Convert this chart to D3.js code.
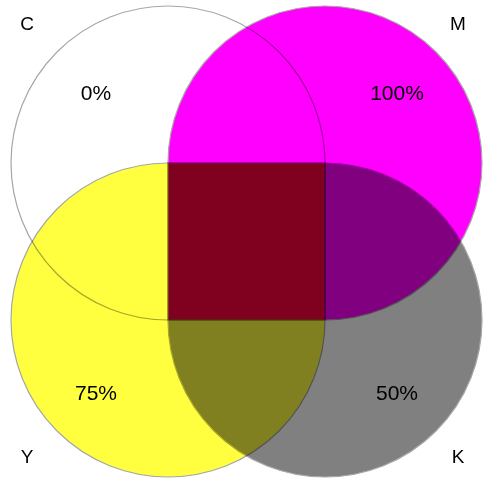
<!DOCTYPE html>
<html>
<head>
<meta charset="utf-8">
<script src="https://cdn.jsdelivr.net/npm/d3@7"></script>
<style>
  html, body { margin: 0; padding: 0; background: #fff; }
  svg { display: block; font-family: "Liberation Sans", Arial, sans-serif; }
  .ink { mix-blend-mode: multiply; }
</style>
</head>
<body>
<div id="chart"></div>
<script>
// CMYK ink coverage, one rounded square per ink
const inks = ['C', 'M', 'Y', 'K'];
const coverage = [0, 100, 75, 50];
const fullColors = ['#00ffff', '#ff00ff', '#ffff00', '#000000'];
const cols = [0, 1, 0, 1];
const rows = [0, 0, 1, 1];

const width = 486, height = 483;

const svg = d3.select('#chart').append('svg')
  .attr('width', width)
  .attr('height', height);

// grid of centres
const x = d3.scaleLinear().domain([0, 1]).range([168, 325]);
const y = d3.scaleLinear().domain([0, 1]).range([163, 320]);
const r = x(1) - x(0);

// color = white mixed with full ink by coverage
const color = (i) => d3.interpolateRgb('#ffffff', fullColors[i])(coverage[i] / 100);

// rounded square, the corner that points to the middle is left sharp
function shape(i) {
  const cx = x(cols[i]), cy = y(rows[i]);
  const sx = cols[i] === 0 ? 1 : -1; // direction of sharp corner
  const sy = rows[i] === 0 ? 1 : -1;
  const rad = (dx, dy) => (dx === sx && dy === sy ? 0 : r);
  const p = d3.path();
  p.moveTo(cx, cy - r);
  p.arcTo(cx + r, cy - r, cx + r, cy, rad(1, -1));
  p.arcTo(cx + r, cy + r, cx, cy + r, rad(1, 1));
  p.arcTo(cx - r, cy + r, cx - r, cy, rad(-1, 1));
  p.arcTo(cx - r, cy - r, cx, cy - r, rad(-1, -1));
  p.closePath();
  return p.toString();
}

const idx = d3.range(inks.length);

svg.append('g').selectAll('path')
  .data(idx)
  .enter()
  .append('path')
  .attr('class', 'ink')
  .attr('d', (i) => shape(i))
  .attr('fill', (i) => color(i))
  .attr('stroke', '#a6a6a6')
  .attr('stroke-width', 1.2);

// percent labels
svg.append('g').selectAll('text')
  .data(idx)
  .enter()
  .append('text')
  .attr('x', (i) => x(cols[i]) + (cols[i] === 0 ? -72 : 72))
  .attr('y', (i) => y(rows[i]) + (rows[i] === 0 ? -70 : 73))
  .attr('dy', '0.35em')
  .attr('text-anchor', 'middle')
  .attr('font-size', 21)
  .attr('fill', '#000')
  .text((i) => coverage[i] + '%');

// ink names in the corners
svg.append('g').selectAll('text')
  .data(idx)
  .enter()
  .append('text')
  .attr('x', (i) => (cols[i] === 0 ? 27 : 458))
  .attr('y', (i) => (rows[i] === 0 ? 23 : 456))
  .attr('dy', '0.35em')
  .attr('text-anchor', 'middle')
  .attr('font-size', 19)
  .attr('fill', '#000')
  .text((i) => inks[i]);
</script>
</body>
</html>
